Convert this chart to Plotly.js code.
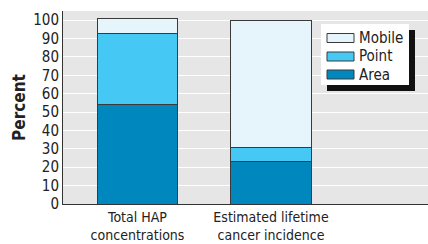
<!DOCTYPE html>
<html><head><meta charset="utf-8">
<script src="https://cdn.plot.ly/plotly-3.0.1.min.js"></script>
<style>html,body{margin:0;padding:0;background:#fff}</style>
</head><body>
<div id="chart" style="width:428px;height:244px"></div>
<script>
const categories = ["Total HAP<br>concentrations", "Estimated lifetime<br>cancer incidence"];
const seriesNames = ["Area", "Point", "Mobile"];
const areaValues = [54, 23];
const pointValues = [39, 8];
const mobileValues = [8, 69];
const yTicks = [0,10,20,30,40,50,60,70,80,90,100];

const FONT = '"DejaVu Sans Condensed", "Liberation Sans Narrow", Arial, sans-serif';
const colors = {Area:'#0088BE', Point:'#45C8F4', Mobile:'#E6F4FB'};
const lineStyle = {color: '#3a3a3a', width: 1};
const cats = [0, 1];
const valuesByName = {Area:areaValues, Point:pointValues, Mobile:mobileValues};

const traces = seriesNames.map(n => ({
  type:'bar', name:n, x:cats, y:valuesByName[n],
  marker:{color:colors[n], line:lineStyle}, width:0.6, showlegend:false
}));

// plot-area geometry (pixels) for a hand-drawn legend box with drop shadow
const L = 63, T = 11, W = 365, H = 193;
const px = x => (x - L) / W;
const py = y => (T + H - y) / H;

const shapes = [
  {type:'rect', xref:'paper', yref:'paper', x0:px(327), x1:px(415), y0:py(91), y1:py(30),
   fillcolor:'#111111', line:{width:0}, layer:'above'},
  {type:'rect', xref:'paper', yref:'paper', x0:px(321), x1:px(409), y0:py(85), y1:py(24),
   fillcolor:'#ffffff', line:{width:0}, layer:'above'}
];
const annotations = [];
const legendOrder = ["Mobile", "Point", "Area"];
const rowCenters = [38, 56.5, 74.5];
legendOrder.forEach((n, i) => {
  const c = rowCenters[i];
  shapes.push({type:'rect', xref:'paper', yref:'paper', x0:px(327), x1:px(354),
    y0:py(c + 4.5), y1:py(c - 4.5), fillcolor:colors[n], line:{color:'#3a3a3a', width:1}, layer:'above'});
  annotations.push({xref:'paper', yref:'paper', x:px(357), y:py(c), xanchor:'left', yanchor:'middle',
    text:n, showarrow:false, font:{family:FONT, size:15, color:'#222'}});
});

const layout = {
  width:428, height:244,
  margin:{l:L, r:0, t:T, b:40},
  barmode:'stack',
  paper_bgcolor:'#ffffff',
  plot_bgcolor:'#E6E6E6',
  font:{family:FONT, size:14, color:'#222'},
  showlegend:false,
  shapes:shapes,
  annotations:annotations,
  xaxis:{range:[-0.558, 2.176], tickvals:cats, ticktext:categories, showgrid:false,
         zeroline:false, showline:true, linecolor:'#333', linewidth:1, ticks:'',
         tickfont:{family:FONT, size:14, color:'#222'}, fixedrange:true},
  yaxis:{range:[0, 105], tickvals:yTicks, ticktext:yTicks.map(String), showgrid:true,
         gridcolor:'#ffffff', gridwidth:1, zeroline:false, showline:true, linecolor:'#333',
         linewidth:1, ticks:'', tickfont:{family:FONT, size:15, color:'#222'},
         title:{text:'<b>Percent</b>', font:{family:FONT, size:17, color:'#222'}, standoff:3},
         fixedrange:true}
};

Plotly.newPlot('chart', traces, layout, {displayModeBar:false, staticPlot:true});
</script>
</body></html>
